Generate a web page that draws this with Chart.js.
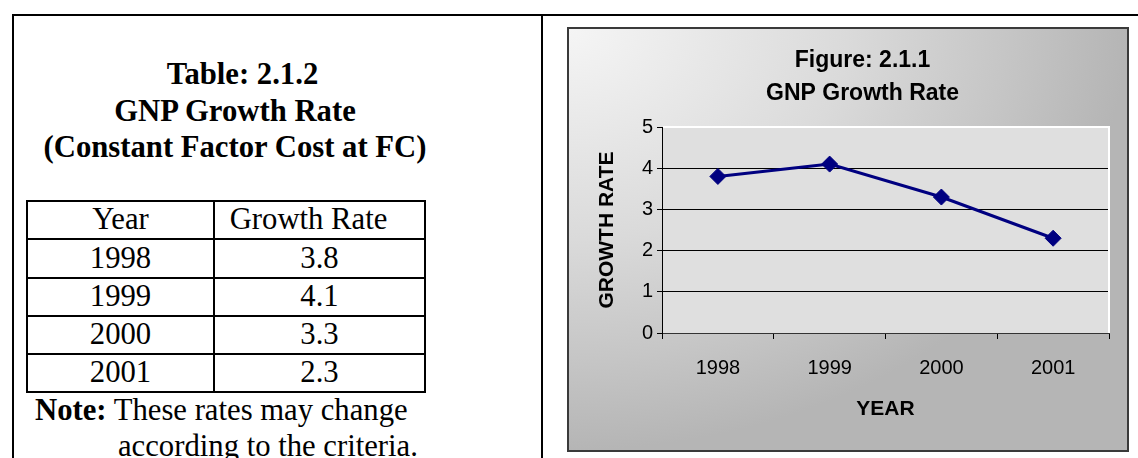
<!DOCTYPE html>
<html>
<head>
<meta charset="utf-8">
<script src="https://cdn.jsdelivr.net/npm/chart.js@4.4.1/dist/chart.umd.min.js"></script>
<style>
  html, body { margin: 0; padding: 0; background: #fff; }
  body { width: 1138px; height: 458px; overflow: hidden; position: relative; }
  .rule { position: absolute; background: #000; }
  .serif { font-family: "Liberation Serif", "Times New Roman", serif; color: #000; }
  #tableHeading { position: absolute; left: 30px; top: 56px; width: 410px; text-align: center;
                  font-weight: bold; font-size: 30.7px; line-height: 36.5px; }
  #tableHeading div:first-child { padding-left: 15px; }
  #rateTable { position: absolute; left: 26px; top: 200px; width: 398px; table-layout: fixed;
               border-collapse: collapse; font-size: 30.7px; line-height: 1.1; }
  #rateTable td { border: 2px solid #000; padding: 0; height: 36.3px; text-align: center; vertical-align: middle;
                  white-space: nowrap; }
  #rateTable td.hdr2 { padding-right: 22px; }
  .note { position: absolute; font-size: 30.7px; line-height: normal; white-space: nowrap; }
  #frame { position: absolute; left: 567px; top: 27px; width: 558px; height: 421px;
           border: 2px solid #3a3a3a; }
  #chart { display: block; }
</style>
</head>
<body>
<div class="rule" style="left:12px; top:14px; width:1126px; height:2px;"></div>
<div class="rule" style="left:12px; top:14px; width:2px; height:444px;"></div>
<div class="rule" style="left:541px; top:14px; width:2px; height:444px;"></div>

<div id="tableHeading" class="serif"></div>
<table id="rateTable" class="serif">
  <colgroup><col style="width:187px"><col style="width:211px"></colgroup>
  <tbody></tbody>
</table>
<div class="note serif" style="left:35px; top:393px;"><b>Note:</b> These rates may change</div>
<div class="note serif" style="left:118px; top:429px;">according to the criteria.</div>

<div id="frame"><canvas id="chart" width="558" height="421"></canvas></div>

<script>
// Series data
const years = ['1998', '1999', '2000', '2001'];
const growthRate = [3.8, 4.1, 3.3, 2.3];

// Axis range and text
const yMin = 0;
const yMax = 5;
const yStep = 1;
const tableHeadingLines = ['Table: 2.1.2', 'GNP Growth Rate', '(Constant Factor Cost at FC)'];
const tableColumns = ['Year', 'Growth Rate'];
const chartHeadingLines = ['Figure: 2.1.1', 'GNP Growth Rate'];
const xAxisTitle = 'YEAR';
const yAxisTitle = 'GROWTH RATE';

// Table on the left
const headingEl = document.getElementById('tableHeading');
tableHeadingLines.forEach(t => {
  const d = document.createElement('div');
  d.textContent = t;
  headingEl.appendChild(d);
});
const tbody = document.querySelector('#rateTable tbody');
const hdr = document.createElement('tr');
hdr.innerHTML = '<td></td><td class="hdr2"></td>';
hdr.children[0].textContent = tableColumns[0];
hdr.children[1].textContent = tableColumns[1];
tbody.appendChild(hdr);
years.forEach((y, i) => {
  const tr = document.createElement('tr');
  tr.innerHTML = '<td></td><td></td>';
  tr.children[0].textContent = y;
  tr.children[1].textContent = growthRate[i].toFixed(1);
  tbody.appendChild(tr);
});

// Chart backdrop, plot fill, plot border highlight and heading
const chartDecor = {
  id: 'chartDecor',
  beforeDraw(chart) {
    const { ctx, width, height, chartArea: a } = chart;
    ctx.save();
    ctx.scale(1, height / width);
    const g = ctx.createRadialGradient(0, 0, 0, 0, 0, width);
    g.addColorStop(0, '#f5f5f5');
    g.addColorStop(0.5, '#dadada');
    g.addColorStop(0.78, '#c6c6c6');
    g.addColorStop(1, '#b5b5b5');
    ctx.fillStyle = g;
    ctx.fillRect(0, 0, width, width);
    ctx.restore();
    ctx.save();
    ctx.fillStyle = '#dfdfdf';
    ctx.fillRect(a.left, a.top, a.right - a.left, a.bottom - a.top);
    ctx.restore();
  },
  beforeDatasetsDraw(chart) {
    const { ctx, chartArea: a } = chart;
    ctx.save();
    ctx.strokeStyle = '#ffffff';
    ctx.lineWidth = 2;
    ctx.beginPath();
    ctx.moveTo(a.left + 1, a.top);
    ctx.lineTo(a.right, a.top);
    ctx.lineTo(a.right, a.bottom);
    ctx.stroke();
    ctx.restore();
  },
  afterDraw(chart) {
    const { ctx } = chart;
    ctx.save();
    ctx.fillStyle = '#000';
    ctx.textAlign = 'center';
    ctx.textBaseline = 'alphabetic';
    ctx.font = 'bold 23px "Liberation Sans", Arial, sans-serif';
    ctx.fillText(chartHeadingLines[0], 293.5, 38);
    ctx.fillText(chartHeadingLines[1], 293.5, 70.5);
    ctx.restore();
  }
};

new Chart(document.getElementById('chart'), {
  type: 'line',
  data: {
    labels: years,
    datasets: [{
      data: growthRate,
      borderColor: '#000080',
      backgroundColor: '#000080',
      borderWidth: 3,
      tension: 0,
      pointStyle: 'rectRot',
      pointRadius: 8,
      pointHoverRadius: 8,
      pointBackgroundColor: '#000080',
      pointBorderColor: '#000080',
      pointBorderWidth: 1
    }]
  },
  options: {
    responsive: false,
    animation: false,
    events: [],
    layout: { padding: { top: 98, right: 18, left: 0, bottom: 0 } },
    plugins: {
      legend: { display: false },
      tooltip: { enabled: false },
      title: { display: false }
    },
    scales: {
      x: {
        offset: true,
        grid: {
          offset: true,
          drawOnChartArea: false,
          drawTicks: true,
          tickLength: 6,
          color: '#000',
          tickColor: '#000'
        },
        border: { display: true, color: '#333', width: 1 },
        ticks: {
          color: '#000',
          padding: 17,
          font: { family: '"Liberation Sans", Arial, sans-serif', size: 20 }
        },
        title: {
          display: true,
          text: xAxisTitle,
          color: '#000',
          font: { family: '"Liberation Sans", Arial, sans-serif', size: 21, weight: 'bold' },
          padding: { top: 0, bottom: 28 }
        },
        afterFit(scale) { scale.height = 117; }
      },
      y: {
        min: yMin,
        max: yMax,
        grid: {
          drawTicks: true,
          tickLength: 5,
          color: (c) => (c.tick && c.tick.value === yMax ? 'rgba(0,0,0,0)' : '#000'),
          tickColor: '#000'
        },
        border: { display: true, color: '#000', width: 1 },
        ticks: {
          stepSize: yStep,
          color: '#000',
          padding: 4,
          font: { family: '"Liberation Sans", Arial, sans-serif', size: 20 }
        },
        title: {
          display: true,
          text: yAxisTitle,
          color: '#000',
          font: { family: '"Liberation Sans", Arial, sans-serif', size: 21, weight: 'bold' },
          padding: { top: 26, bottom: 0 }
        },
        afterFit(scale) { scale.width = 93; }
      }
    }
  },
  plugins: [chartDecor]
});
</script>
</body>
</html>
